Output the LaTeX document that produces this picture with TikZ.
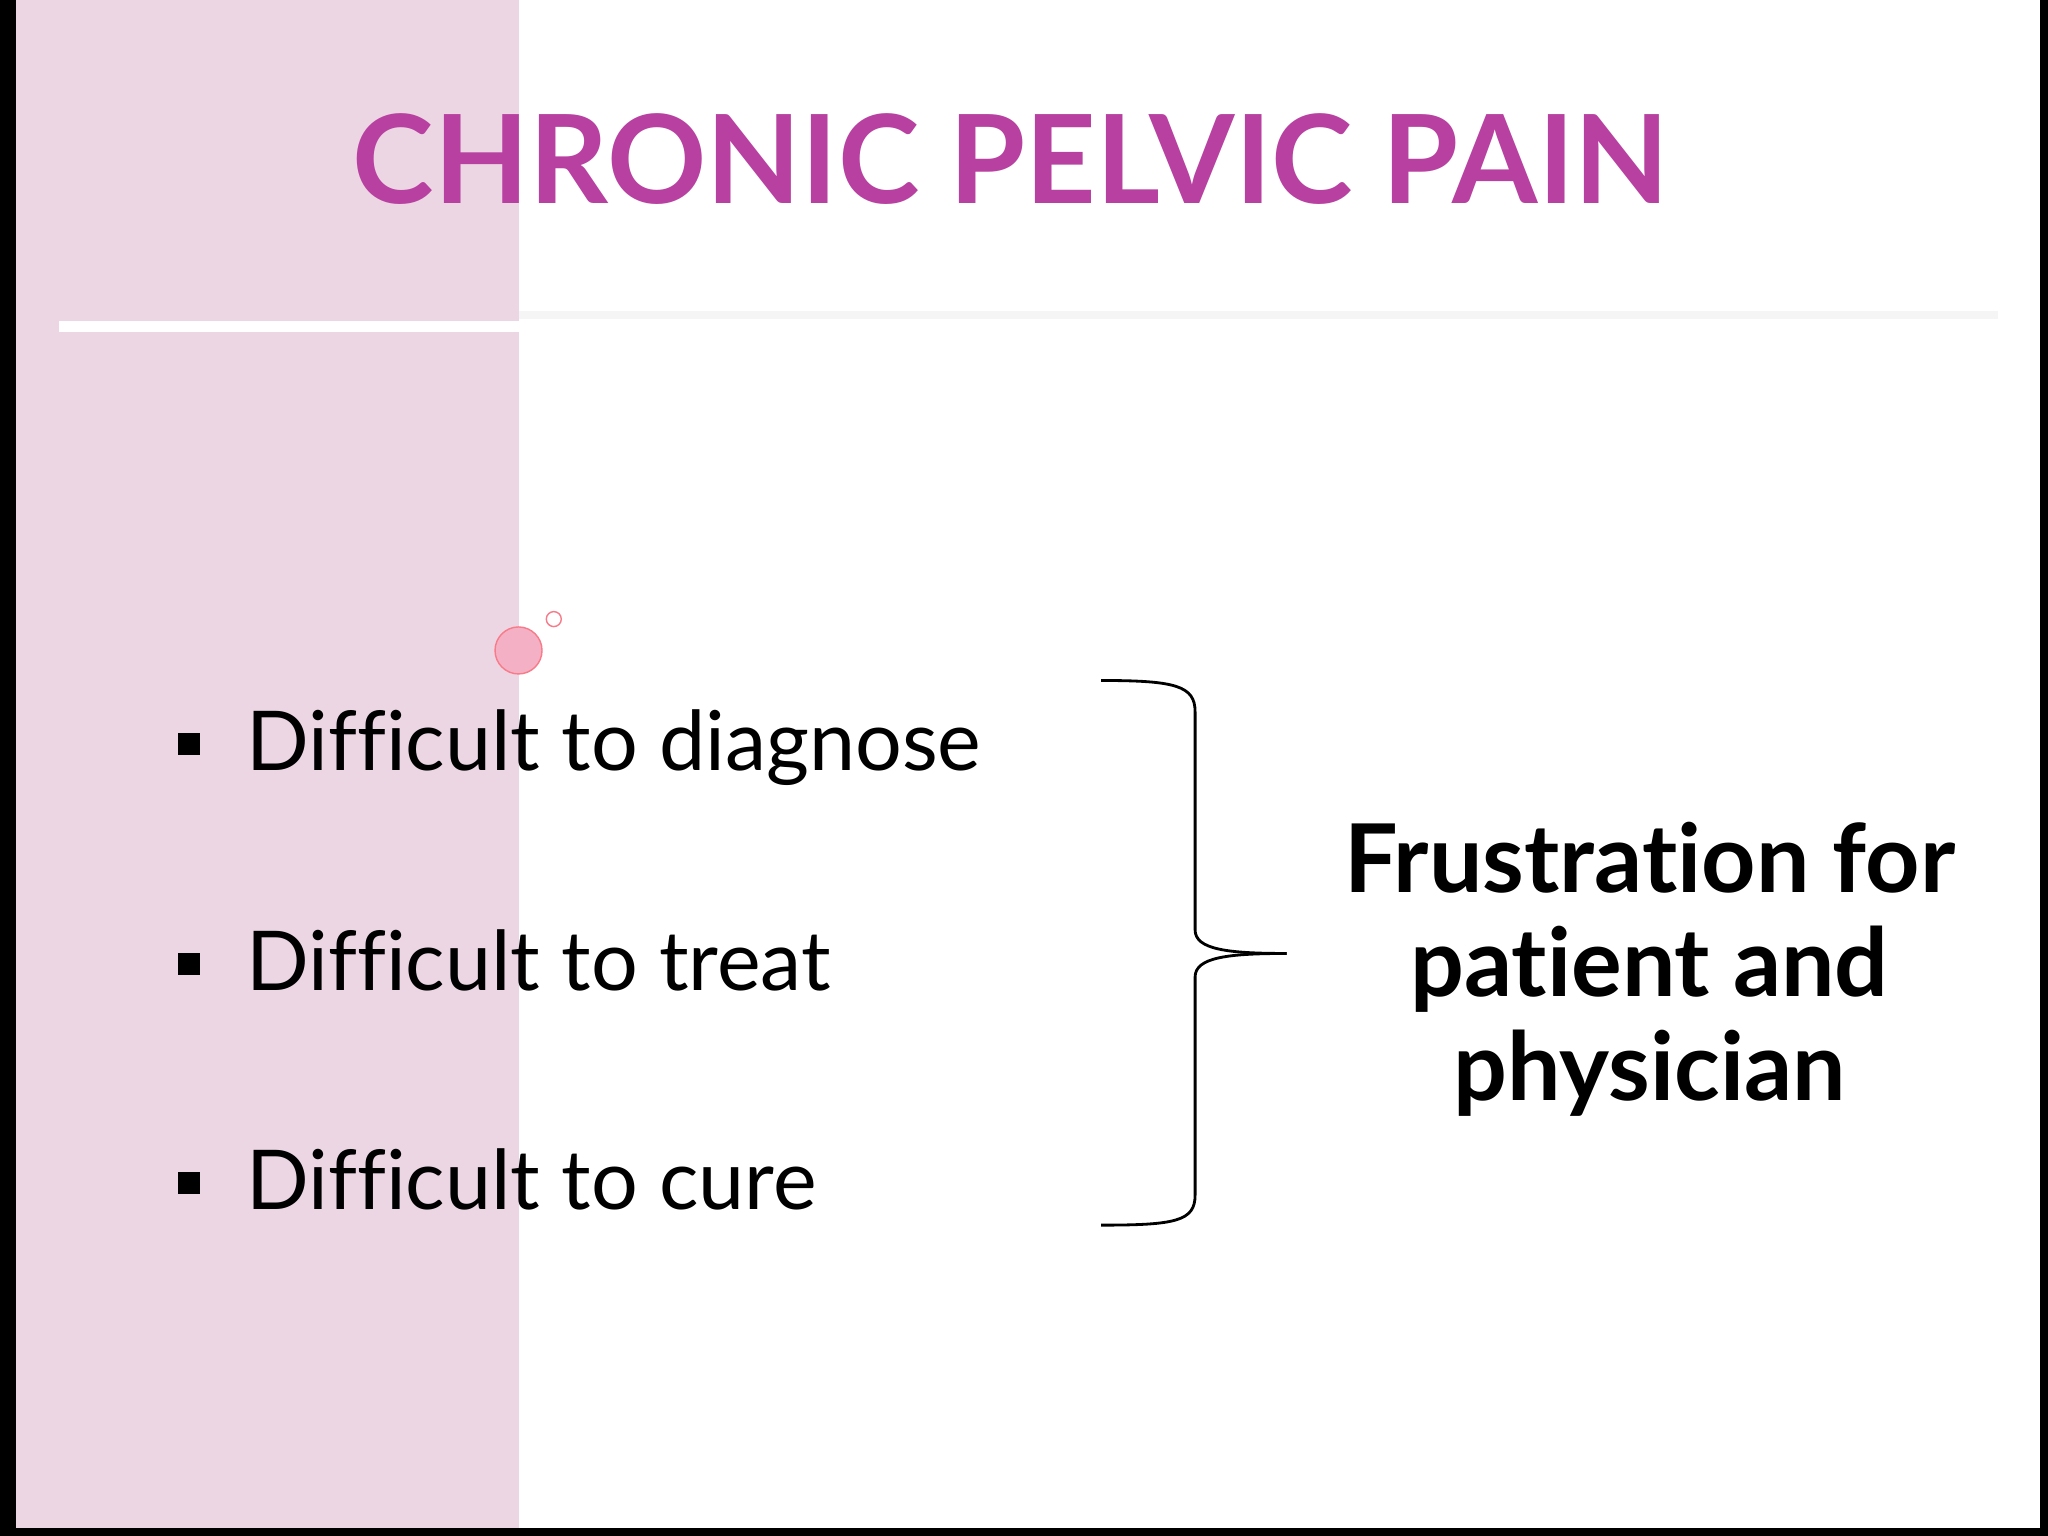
\documentclass[tikz,border=0pt]{standalone}
\usepackage{fontspec}
\setmainfont{Lato}[Ligatures={NoCommon,TeX}]
\definecolor{panelpink}{RGB}{236,214,228}
\definecolor{titlepink}{RGB}{184,64,160}
\definecolor{dotpink}{RGB}{244,176,196}
\tikzset{
  item/.style={anchor=base west, font=\fontsize{23.5}{28}\selectfont, inner sep=0pt},
  bullet/.style={fill=black, minimum size=0.22cm, inner sep=0pt},
  sumtext/.style={font=\bfseries\fontsize{27}{29.6}\selectfont, align=center}
}
\begin{document}
\begin{tikzpicture}[x=0.01306cm,y=-0.01306cm]
\useasboundingbox (0,0) rectangle (1568,1176);
% background and frame
\fill[black] (0,0) rectangle (1568,1176);
\fill[white] (12,0) rectangle (1562,1170);
\fill[panelpink] (12,0) rectangle (397,1170);
\fill[white] (45,246) rectangle (397,254);
\fill[black!4] (397,238) rectangle (1530,244);
% title
\node[font=\bfseries\fontsize{35}{40}\selectfont, text=titlepink] (title) at (774,122) {CHRONIC PELVIC PAIN};
% decoration
\node[circle, fill=dotpink, draw=dotpink!70!red, minimum size=0.47cm, inner sep=0pt] (dotbig) at (397,498) {};
\node[circle, draw=dotpink!70!red, fill=white, minimum size=0.15cm, inner sep=0pt] (dotsmall) at (424,474) {};
% bullets
\foreach \y/\t in {590/Difficult to diagnose, 758/Difficult to treat, 926/Difficult to cure} {
  \node[bullet] at (145,\y-20) {};
  \node[item] at (188,\y) {\t};
}
% brace
\coordinate (btop) at (843,521);
\coordinate (bend) at (843,938);
\coordinate (btip) at (985,730);
\draw[line width=0.8pt] (btop) .. controls (900,521) and (915,525) .. (915,545)
  -- (915,712) .. controls (915,727) and (940,730) .. (btip);
\draw[line width=0.8pt] (btip) .. controls (940,730) and (915,733) .. (915,748)
  -- (915,915) .. controls (915,935) and (900,938) .. (bend);
% result
\node[sumtext, anchor=north] (result) at (1263,620) {Frustration for\\patient and\\physician};
\end{tikzpicture}
\end{document}
